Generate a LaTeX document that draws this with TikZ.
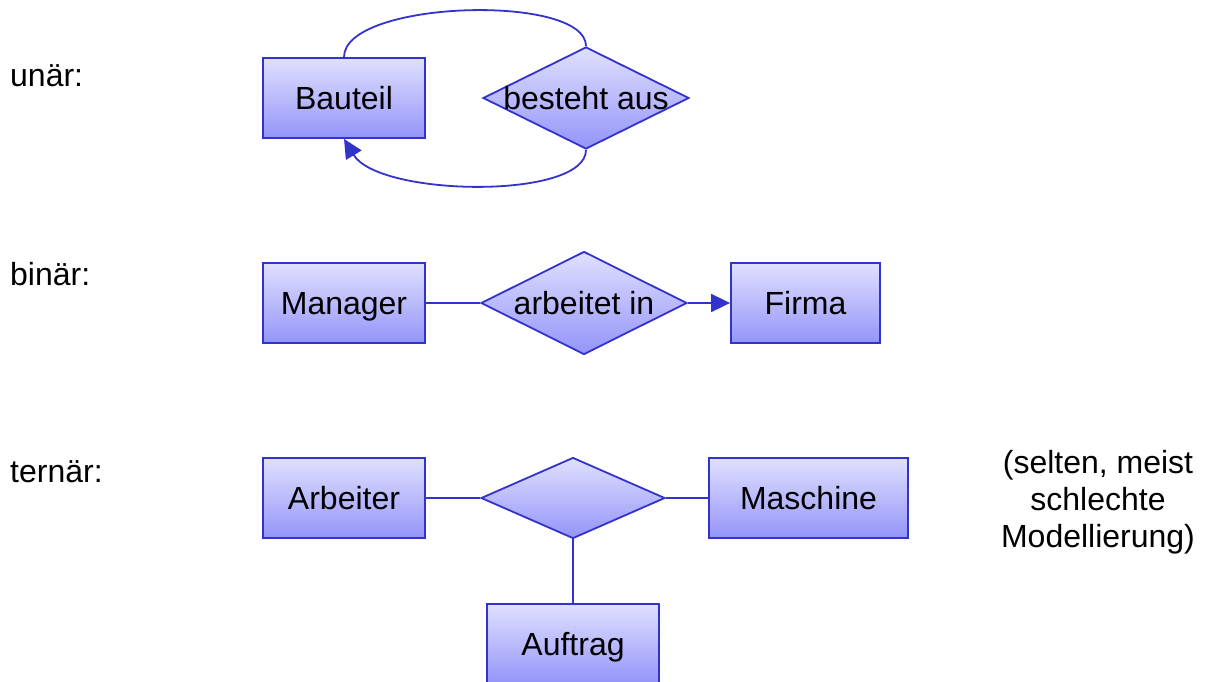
\documentclass[tikz,border=0pt]{standalone}
\usepackage{fontspec}
\setmainfont{Liberation Sans}
\usetikzlibrary{shapes.geometric,arrows.meta}
\definecolor{topc}{RGB}{224,224,255}
\definecolor{botc}{RGB}{148,148,250}
\definecolor{edgec}{RGB}{50,50,205}
\tikzset{
  entity/.style={rectangle, draw=edgec, line width=1.8pt, top color=topc, bottom color=botc,
    minimum height=80pt, inner sep=0pt, text height=23pt, text depth=0pt,
    font=\fontsize{32}{37}\selectfont},
  relation/.style={diamond, draw=edgec, line width=1.8pt, top color=topc, bottom color=botc,
    inner sep=0pt, shape aspect=2},
  reltext/.style={inner sep=0pt, text height=23pt, text depth=0pt, font=\fontsize{32}{37}\selectfont},
  lbl/.style={inner sep=0pt, anchor=base west, font=\fontsize{32}{37}\selectfont},
  conn/.style={draw=edgec, line width=1.8pt},
  tip/.style={-{Triangle[length=19pt,width=18pt]}}
}
\begin{document}
\begin{tikzpicture}[x=1pt,y=-1pt]
\useasboundingbox (0,0) rectangle (1205,681);
% labels
\node[lbl] (lu) at (10,86) {unär:};
\node[lbl] (lb) at (10,285) {binär:};
\node[lbl] (lt) at (10,482) {ternär:};
\node[inner sep=0pt, anchor=base, align=center, font=\fontsize{32}{37}\selectfont] (note) at (1098,547) {(selten, meist\\schlechte\\Modellierung)};
% unary
\node[entity, minimum width=162pt] (bauteil) at (344,98) {Bauteil};
\node[relation, minimum width=206pt, minimum height=102pt] (r1) at (586,98) {};
\node[reltext] (r1t) at (r1.center) {besteht aus};
\draw[conn] (bauteil.north) .. controls +(0,-57) and +(0,-53) .. (r1.north);
\draw[conn, tip] (r1.south) .. controls +(0,50) and +(35,58) .. (bauteil.south);
% binary
\node[entity, minimum width=162pt] (manager) at (344,303) {Manager};
\node[relation, minimum width=206pt, minimum height=103pt] (r2) at (584,303) {};
\node[reltext] (r2t) at (r2.center) {arbeitet in};
\node[entity, minimum width=149pt] (firma) at (805.5,303) {Firma};
\draw[conn] (manager.east) -- (r2.west);
\draw[conn, tip] (r2.east) -- (firma.west);
% ternary
\node[entity, minimum width=162pt] (arbeiter) at (344,498) {Arbeiter};
\node[relation, minimum width=184pt, minimum height=81pt] (r3) at (573,498) {};
\node[entity, minimum width=172pt] (auftrag) at (573,644) {Auftrag};
\node[entity, minimum width=199pt] (maschine) at (808.5,498) {Maschine};
\draw[conn] (arbeiter.east) -- (r3.west);
\draw[conn] (r3.east) -- (maschine.west);
\draw[conn] (r3.south) -- (auftrag.north);
\end{tikzpicture}
\end{document}
